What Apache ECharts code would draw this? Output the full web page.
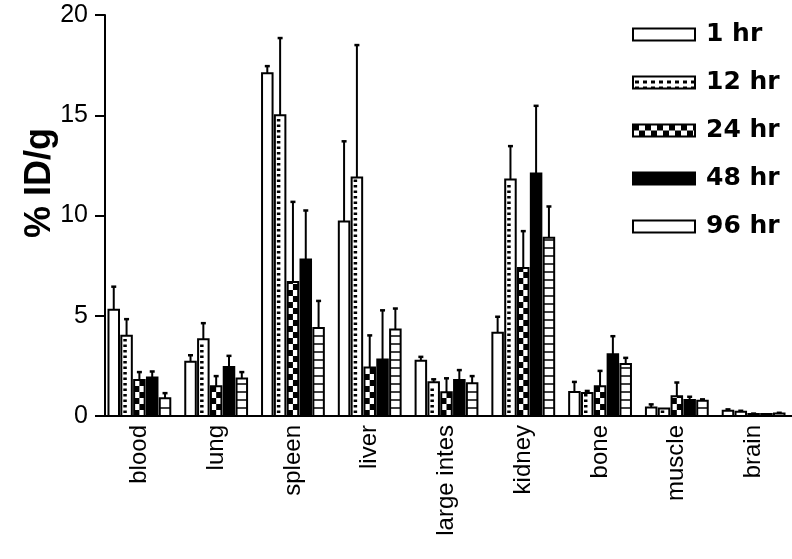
<!DOCTYPE html>
<html>
<head>
<meta charset="utf-8">
<script src="https://cdn.jsdelivr.net/npm/echarts@6/dist/echarts.min.js"></script>
<style>
html,body{margin:0;padding:0;background:#fff}
#main{width:792px;height:559px}
</style>
</head>
<body>
<div id="main"></div>
<script>
// organs on the x axis, time points in the legend
var organs = ['blood', 'lung', 'spleen', 'liver', 'large intes', 'kidney', 'bone', 'muscle', 'brain'];
var times = ['1 hr', '12 hr', '24 hr', '48 hr', '96 hr'];
var yTicks = [0, 5, 10, 15, 20];

// mean %ID/g and upper error (SD) per time point
var mean1  = [5.3, 2.7, 17.1, 9.7, 2.75, 4.15, 1.2, 0.43, 0.26];
var sd1    = [1.15, 0.33, 0.35, 4.0, 0.2, 0.8, 0.5, 0.15, 0.07];
var mean12 = [4.0, 3.83, 15.0, 11.9, 1.68, 11.8, 1.15, 0.38, 0.21];
var sd12   = [0.83, 0.8, 3.85, 6.6, 0.15, 1.66, 0.1, 0, 0.05];
var mean24 = [1.79, 1.49, 6.68, 2.42, 1.18, 7.38, 1.49, 0.99, 0.1];
var sd24   = [0.4, 0.5, 4.0, 1.6, 0.7, 1.84, 0.76, 0.68, 0.02];
var mean48 = [1.92, 2.45, 7.8, 2.82, 1.79, 12.1, 3.08, 0.8, 0.1];
var sd48   = [0.3, 0.55, 2.45, 2.45, 0.5, 3.37, 0.9, 0.16, 0];
var mean96 = [0.88, 1.87, 4.39, 4.31, 1.63, 8.89, 2.59, 0.76, 0.13];
var sd96   = [0.26, 0.32, 1.35, 1.05, 0.36, 1.56, 0.31, 0.07, 0.03];

var means = [mean1, mean12, mean24, mean48, mean96];
var sds = [sd1, sd12, sd24, sd48, sd96];

var font = "'Liberation Sans', Arial, sans-serif";
var wideFont = "'DejaVu Sans', sans-serif";

// small canvas tiles for the legend swatches
function tile(w, h, draw) {
	var c = document.createElement('canvas');
	c.width = w; c.height = h;
	var g = c.getContext('2d');
	g.fillStyle = '#fff';
	g.fillRect(0, 0, w, h);
	g.fillStyle = '#000';
	draw(g);
	return c;
}
var dots = tile(8, 12, function (g) { g.fillRect(2, 4, 4, 3); g.fillRect(2, 10, 4, 2); });
var checker = tile(12, 12, function (g) { g.fillRect(0, 0, 6, 6); g.fillRect(6, 6, 6, 6); });

var legendFill = [
	'#fff',
	{ image: dots, repeat: 'repeat' },
	{ image: checker, repeat: 'repeat' },
	'#000',
	'#fff'
];

var renderBar = function (params, api) {
	var k = params.seriesIndex;
	var ci = api.value(0), v = api.value(1), e = api.value(2);
	var band = api.size([1, 0])[0];
	var bw = band * 0.137, gap = band * 0.03;
	var base = api.coord([ci, 0]);
	var top = api.coord([ci, v]);
	var eTop = api.coord([ci, v + e]);
	var cx = base[0] + (k - 2) * (bw + gap);
	var x0 = cx - bw / 2, y0 = top[1], yb = base[1], h = yb - y0;
	var kids = [];
	kids.push({ type: 'rect', shape: { x: x0, y: y0, width: bw, height: h }, style: { fill: k === 3 ? '#000' : '#fff' } });
	var y, j;
	if (k === 1) {
		for (y = yb - 3; y - 2.5 > y0 + 1; y -= 5.5) {
			kids.push({ type: 'rect', shape: { x: x0 + 2, y: y - 2.5, width: 3.5, height: 2.5 }, style: { fill: '#000' } });
		}
	} else if (k === 2) {
		for (j = 0, y = yb; y > y0; j++, y -= 6) {
			var yt = Math.max(y - 6, y0);
			kids.push({ type: 'rect', shape: { x: j % 2 ? x0 + bw / 2 : x0, y: yt, width: bw / 2, height: y - yt }, style: { fill: '#000' } });
		}
	} else if (k === 4) {
		for (y = yb - 8; y > y0 + 2; y -= 8) {
			kids.push({ type: 'line', shape: { x1: x0, y1: y, x2: x0 + bw, y2: y }, style: { stroke: '#000', lineWidth: 1.5 } });
		}
	}
	kids.push({ type: 'rect', shape: { x: x0, y: y0, width: bw, height: h }, style: { fill: null, stroke: '#000', lineWidth: 2 } });
	if (e > 0) {
		kids.push({ type: 'line', shape: { x1: cx, y1: y0, x2: cx, y2: eTop[1] }, style: { stroke: '#000', lineWidth: 2 } });
		kids.push({ type: 'line', shape: { x1: cx - 2.5, y1: eTop[1], x2: cx + 2.5, y2: eTop[1] }, style: { stroke: '#000', lineWidth: 2.5 } });
	}
	return { type: 'group', children: kids };
};

var series = times.map(function (t, k) {
	return {
		name: t,
		type: 'custom',
		renderItem: renderBar,
		itemStyle: { color: k === 3 ? '#000' : '#fff', borderColor: '#000', borderWidth: 2 },
		encode: { x: 0, y: 1 },
		data: organs.map(function (o, i) { return [i, means[k][i], sds[k][i]]; }),
		silent: true
	};
});

var chart = echarts.init(document.getElementById('main'));
chart.setOption({
	animation: false,
	backgroundColor: '#fff',
	grid: { left: 101, right: -3, top: 15, bottom: 143, containLabel: false },
	legend: {
		orient: 'vertical',
		left: 627,
		top: 17,
		icon: 'rect',
		itemWidth: 62,
		itemHeight: 12,
		itemGap: 23,
		selectedMode: false,
		textStyle: { fontSize: 25, lineHeight: 24, fontWeight: 'bold', fontFamily: wideFont, color: '#000', padding: [0, 0, 0, 6] },
		data: times.map(function (t, k) {
			return { name: t, itemStyle: { color: legendFill[k], borderColor: '#000', borderWidth: 2 } };
		})
	},
	graphic: [{
		type: 'text',
		x: 40,
		y: 183,
		rotation: Math.PI / 2,
		style: { text: '% ID/g', fontSize: 36, fontWeight: 'bold', fontFamily: font, fill: '#000', align: 'center', verticalAlign: 'middle' }
	}],
	xAxis: {
		type: 'category',
		data: organs,
		axisLine: { lineStyle: { color: '#000', width: 2 } },
		axisTick: { show: false },
		axisLabel: { rotate: 90, margin: 9, fontSize: 24, fontFamily: font, color: '#000' }
	},
	yAxis: {
		type: 'value',
		min: yTicks[0],
		max: yTicks[yTicks.length - 1],
		interval: 5,
		offset: -4,
		splitLine: { show: false },
		axisLine: { show: true, lineStyle: { color: '#000', width: 2 } },
		axisTick: { show: true, length: 10, lineStyle: { color: '#000', width: 2 } },
		axisLabel: { fontSize: 25, fontFamily: font, color: '#000', margin: 17 }
	},
	series: series
});
</script>
</body>
</html>
